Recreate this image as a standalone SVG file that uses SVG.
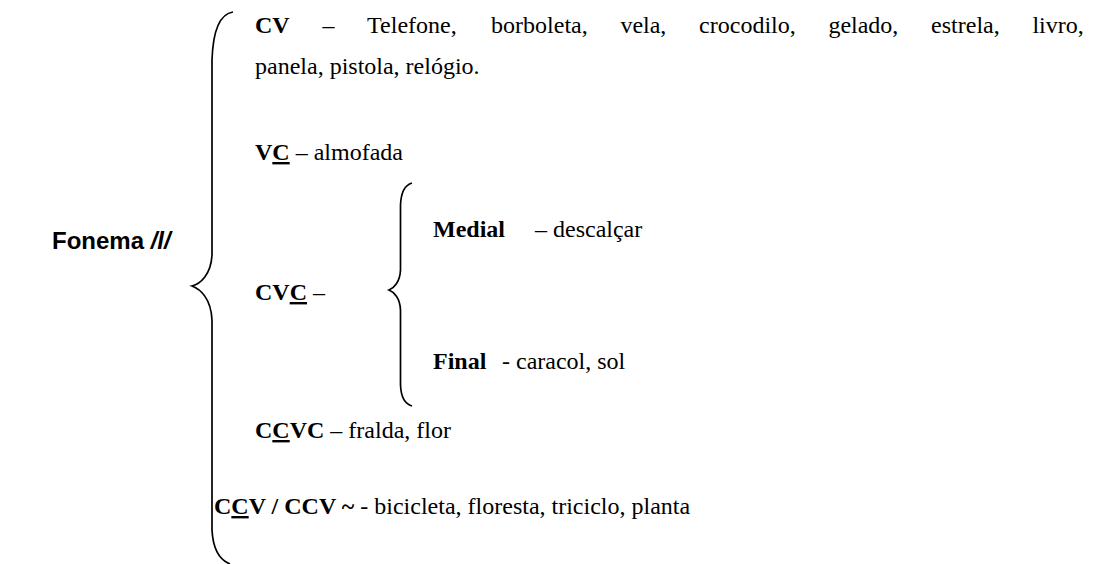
<svg xmlns="http://www.w3.org/2000/svg" width="1104" height="564" viewBox="0 0 1104 564">
<style>
.t{font-family:"Liberation Serif","Times New Roman",serif;font-size:24px;fill:#000}
.b{font-weight:bold}
.u{text-decoration:underline}
.f{font-family:"Liberation Sans",Arial,sans-serif;font-size:24px;font-weight:bold;fill:#000}
.br{fill:none;stroke:#000;stroke-width:1.7}
</style>
<rect width="1104" height="564" fill="#fff"/>
<g id="connectors">
<path class="br" d="M233,12 C220,14 213,30 212,60 L212,255 C211,275 200,284 192,286 C200,289 211,298 212,320 L212,530 C213,550 220,560 230,564"/>
<path class="br" d="M412,183 C405,185 401,192 400.5,205 L400.5,270 C400,282 394,288 389,290 C394,292 400,298 400.5,310 L400.5,385 C401,398 405,404 412,406"/>
</g>
<g id="root"><text class="f" x="52" y="249">Fonema <tspan font-style="italic">/l/</tspan></text></g>
<g id="cv"><text class="t" y="33"><tspan class="b" x="255">CV</tspan><tspan x="322.4">–</tspan><tspan x="367.1">Telefone,</tspan><tspan x="491.1">borboleta,</tspan><tspan x="620.4">vela,</tspan><tspan x="699.1">crocodilo,</tspan><tspan x="828.4">gelado,</tspan><tspan x="931.1">estrela,</tspan><tspan x="1032.4">livro,</tspan></text>
<text class="t" x="255" y="74">panela, pistola, relógio.</text></g>
<g id="vc"><text class="t" x="255" y="160"><tspan class="b">V</tspan><tspan class="b u">C</tspan> – almofada</text></g>
<g id="cvc"><text class="t" x="255" y="300"><tspan class="b">CV</tspan><tspan class="b u">C</tspan> –</text></g>
<g id="medial"><text class="t" x="433" y="237"><tspan class="b">Medial</tspan><tspan x="535">– descalçar</tspan></text></g>
<g id="final"><text class="t" x="433" y="369"><tspan class="b">Final</tspan><tspan x="502">- caracol, sol</tspan></text></g>
<g id="ccvc"><text class="t" x="255" y="438"><tspan class="b">C</tspan><tspan class="b u">C</tspan><tspan class="b">VC</tspan> – fralda, flor</text></g>
<g id="ccv"><text class="t" x="214" y="514"><tspan class="b">C</tspan><tspan class="b u">C</tspan><tspan class="b">V / CCV ~</tspan> - bicicleta, floresta, triciclo, planta</text></g>
</svg>
